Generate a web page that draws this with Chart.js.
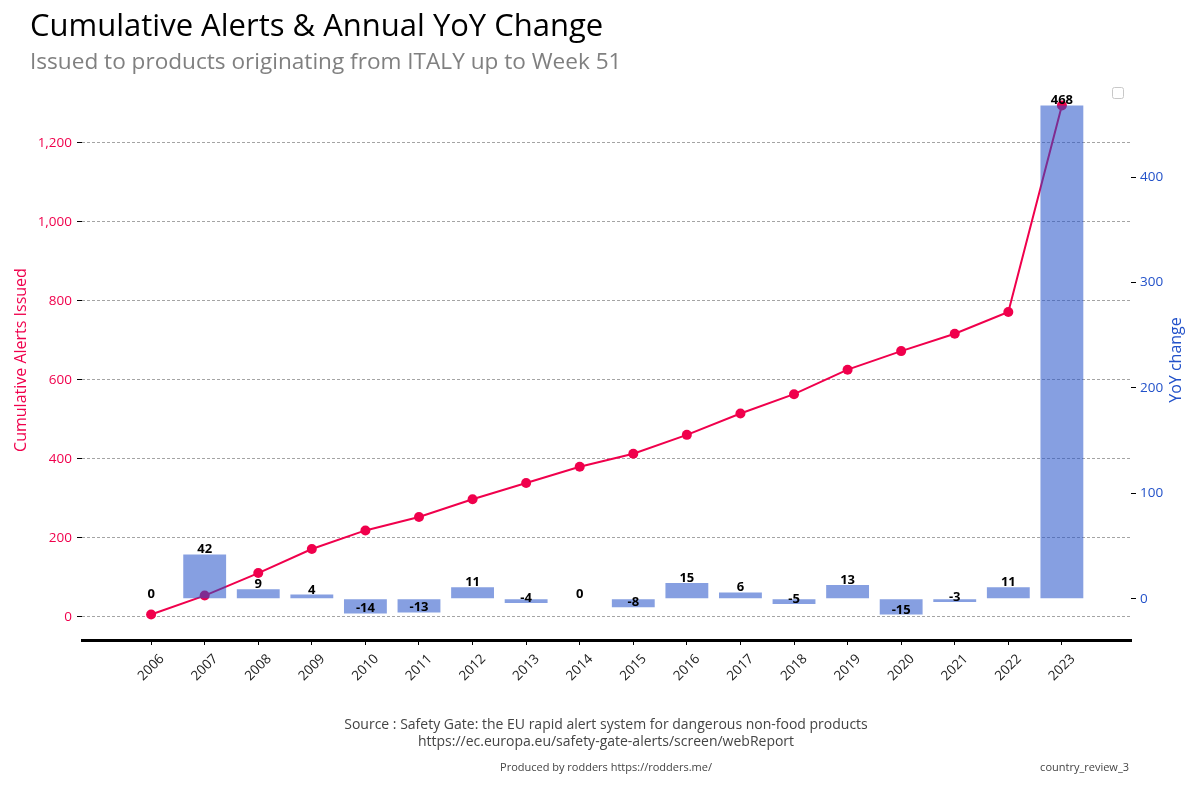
<!DOCTYPE html>
<html>
<head>
<meta charset="utf-8">
<script src="https://cdn.jsdelivr.net/npm/chart.js@4.4.0/dist/chart.umd.min.js"></script>
<style>
  html, body { margin: 0; padding: 0; background: #fff; }
  #wrap { width: 1200px; height: 800px; }
</style>
</head>
<body>
<div id="wrap"><canvas id="alertsChart" width="1200" height="800"></canvas></div>
<script>
// Data
const years = ["2006", "2007", "2008", "2009", "2010", "2011", "2012", "2013", "2014",
               "2015", "2016", "2017", "2018", "2019", "2020", "2021", "2022", "2023"];
const cumulativeAlerts = [6, 54, 111, 172, 219, 253, 298, 339, 380, 413, 461, 515, 564, 626, 673, 717, 772, 1295];
const yoyChange = [0, 42, 9, 4, -14, -13, 11, -4, 0, -8, 15, 6, -5, 13, -15, -3, 11, 468];
const leftTicks = [0, 200, 400, 600, 800, 1000, 1200];
const rightTicks = [0, 100, 200, 300, 400];

const RED = 'rgb(240, 0, 76)';
const BLUE = 'rgb(34, 81, 201)';
const FONT = "'Open Sans', sans-serif";

// titles, axis titles, footer notes and the empty legend box
const decorations = {
  id: 'decorations',
  afterDraw(chart) {
    const ctx = chart.ctx;
    ctx.save();
    ctx.textBaseline = 'alphabetic';
    ctx.textAlign = 'left';
    ctx.fillStyle = '#000';
    ctx.font = `31px ${FONT}`;
    ctx.fillText('Cumulative Alerts & Annual YoY Change', 30, 36);
    ctx.fillStyle = '#808080';
    ctx.font = `22.6px ${FONT}`;
    ctx.fillText('Issued to products originating from ITALY up to Week 51', 30, 69);

    // axis titles, both reading bottom to top
    ctx.font = `16px ${FONT}`;
    ctx.textAlign = 'center';
    ctx.textBaseline = 'middle';
    [[21, RED, 'Cumulative Alerts Issued'], [1176, BLUE, 'YoY change']].forEach(([x, col, txt]) => {
      ctx.save();
      ctx.translate(x, 360);
      ctx.rotate(-Math.PI / 2);
      ctx.fillStyle = col;
      ctx.fillText(txt, 0, 0);
      ctx.restore();
    });

    // footer
    ctx.textBaseline = 'alphabetic';
    ctx.fillStyle = '#444';
    ctx.font = `14px ${FONT}`;
    ctx.fillText('Source : Safety Gate: the EU rapid alert system for dangerous non-food products', 606, 729);
    ctx.fillText('https://ec.europa.eu/safety-gate-alerts/screen/webReport', 606, 746);
    ctx.font = `11px ${FONT}`;
    ctx.fillText('Produced by rodders https://rodders.me/', 606, 771);
    ctx.textAlign = 'right';
    ctx.fillText('country_review_3', 1129, 771);

    // empty legend frame
    ctx.strokeStyle = '#c8c8c8';
    ctx.lineWidth = 1;
    ctx.beginPath();
    ctx.roundRect(1112.5, 87.5, 11, 11, 2);
    ctx.stroke();
    ctx.restore();
  }
};

// value labels on the bars
const barLabels = {
  id: 'barLabels',
  afterDatasetsDraw(chart) {
    const ctx = chart.ctx;
    const meta = chart.getDatasetMeta(0);
    const yScale = chart.scales.y1;
    ctx.save();
    ctx.font = `bold 13px ${FONT}`;
    ctx.fillStyle = '#000';
    ctx.textAlign = 'center';
    ctx.textBaseline = 'alphabetic';
    meta.data.forEach((bar, i) => {
      ctx.fillText(String(yoyChange[i]), bar.x, yScale.getPixelForValue(yoyChange[i]) - 1);
    });
    ctx.restore();
  }
};

const config = {
  type: 'bar',
  data: {
    datasets: [{
      type: 'bar',
      label: 'YoY change',
      data: yoyChange.map((v, i) => ({ x: i, y: v })),
      xAxisID: 'x',
      yAxisID: 'y1',
      backgroundColor: 'rgba(34, 81, 201, 0.55)',
      borderWidth: 0,
      barPercentage: 0.8,
      categoryPercentage: 1,
      order: 0
    }, {
      type: 'line',
      label: 'Cumulative Alerts Issued',
      data: cumulativeAlerts.map((v, i) => ({ x: i, y: v })),
      xAxisID: 'x',
      yAxisID: 'y',
      borderColor: RED,
      backgroundColor: RED,
      pointBackgroundColor: RED,
      pointBorderColor: RED,
      pointBorderWidth: 0,
      pointRadius: 5,
      borderWidth: 2,
      tension: 0,
      order: 1
    }]
  },
  options: {
    responsive: false,
    animation: false,
    layout: { padding: { top: 80, left: 0, right: 0, bottom: 0 } },
    plugins: {
      legend: { display: false },
      tooltip: { enabled: false }
    },
    scales: {
      x: {
        type: 'linear',
        min: -1.29,
        max: 18.29,
        offset: false,
        afterBuildTicks: s => { s.ticks = years.map((_, i) => ({ value: i })); },
        afterFit: s => { s.height = 160; },
        ticks: {
          autoSkip: false,
          minRotation: 45,
          maxRotation: 45,
          padding: 6,
          labelOffset: 11,
          color: '#222',
          font: { family: FONT, size: 13.5 },
          callback: v => years[v]
        },
        grid: { drawOnChartArea: false, offset: false, tickLength: 5, tickColor: '#000', tickWidth: 1 },
        border: { display: true, color: '#000', width: 3 }
      },
      y: {
        position: 'left',
        min: -58.45,
        max: 1359.45,
        afterBuildTicks: s => { s.ticks = leftTicks.map(v => ({ value: v })); },
        afterFit: s => { s.width = 82; },
        ticks: {
          color: RED,
          padding: 5,
          font: { family: FONT, size: 13.5 },
          callback: v => v.toLocaleString('en-US')
        },
        grid: { color: 'rgba(0,0,0,0.45)', lineWidth: 0.8, tickColor: '#000', tickLength: 5, tickWidth: 1 },
        border: { display: false, dash: [3, 2] }
      },
      y1: {
        position: 'right',
        min: -39.15,
        max: 492.15,
        afterBuildTicks: s => { s.ticks = rightTicks.map(v => ({ value: v })); },
        afterFit: s => { s.width = 69; },
        ticks: {
          color: BLUE,
          padding: 4,
          font: { family: FONT, size: 13.5 }
        },
        grid: { drawOnChartArea: false, tickColor: '#000', tickLength: 5, tickWidth: 1 },
        border: { display: false }
      }
    }
  },
  plugins: [decorations, barLabels]
};

window.addEventListener('DOMContentLoaded', () => {
  new Chart(document.getElementById('alertsChart'), config);
});
</script>
</body>
</html>
